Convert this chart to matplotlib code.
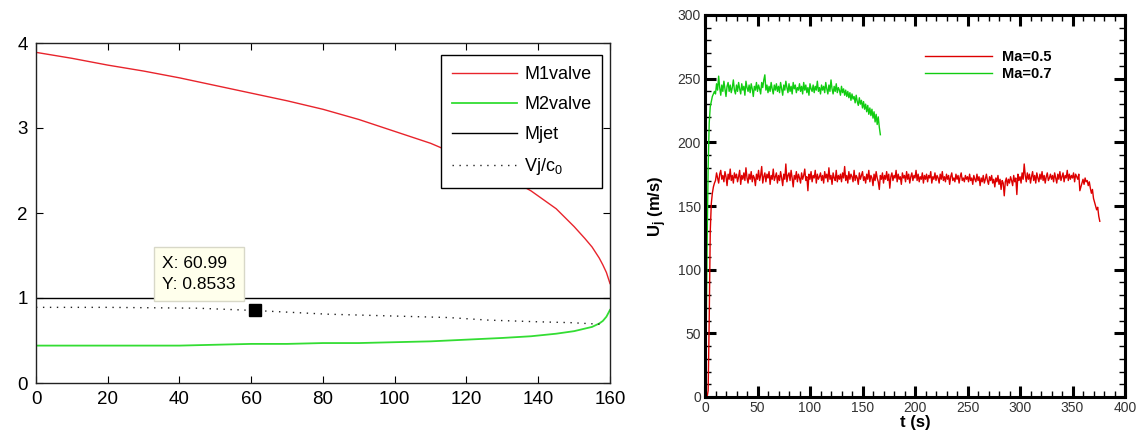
import numpy as np
import matplotlib
matplotlib.use("Agg")
import matplotlib.pyplot as plt
from matplotlib.ticker import MultipleLocator

plt.rcParams['font.family'] = ['Liberation Sans', 'DejaVu Sans']
plt.rcParams['mathtext.fontset'] = 'custom'
plt.rcParams['mathtext.rm'] = 'Liberation Sans'
plt.rcParams['mathtext.it'] = 'Liberation Sans'
plt.rcParams['mathtext.bf'] = 'Liberation Sans:bold'

# ---------------- Left panel data ----------------
x_valve = [0, 10, 20, 30, 40, 50, 60, 70, 80, 90, 100, 110, 120, 130, 138, 145,
           150, 153, 155, 157, 158, 159, 160]
m1_valve = [3.89, 3.82, 3.74, 3.67, 3.59, 3.50, 3.41, 3.32, 3.22, 3.10, 2.96, 2.82,
            2.64, 2.45, 2.26, 2.05, 1.84, 1.70, 1.60, 1.47, 1.39, 1.30, 1.17]
m2_valve = [0.44, 0.44, 0.44, 0.44, 0.44, 0.45, 0.46, 0.46, 0.47, 0.47, 0.48, 0.49,
            0.51, 0.53, 0.55, 0.58, 0.61, 0.64, 0.66, 0.70, 0.73, 0.78, 0.86]
x_jet = [0, 160]
m_jet = [1.0, 1.0]
x_vj = [0, 20, 45, 61, 81, 98, 115, 126, 140, 149, 158]
vj_c0 = [0.89, 0.89, 0.88, 0.853, 0.81, 0.79, 0.77, 0.74, 0.72, 0.71, 0.69]
tip_x, tip_y = 60.99, 0.8533
left_labels = ['M1valve', 'M2valve', 'Mjet', 'Vj/c$_0$']

# ---------------- Right panel data ----------------
t_red = list(range(0, 377))
u_red = [0, 0, 0, 5, 60, 130, 152, 160, 165, 168,
         170, 176, 172, 168, 175, 178, 171, 174, 169, 177, 173, 166, 175, 171, 179, 170, 174, 168, 176, 172,
         175, 169, 173, 178, 167, 174, 171, 176, 170, 180, 172, 168, 175, 171, 177, 169, 174, 172, 166, 175,
         171, 178, 170, 174, 181, 168, 173, 176, 169, 175, 172, 177, 167, 174, 171, 179, 170, 173, 176, 168,
         174, 170, 177, 172, 166, 175, 171, 183, 169, 174, 176, 170, 178, 172, 165, 174, 171, 177, 169, 175,
         172, 168, 176, 171, 174, 179, 170, 173, 162, 175, 171, 177, 169, 174, 172, 178, 168, 175, 171, 173,
         176, 170, 174, 168, 177, 172, 175, 169, 180, 171, 174, 167, 176, 172, 170, 178, 169, 174, 171, 175,
         169, 176, 172, 181, 170, 174, 168, 177, 171, 175, 173, 169, 178, 170, 174, 172, 167, 176, 171, 174,
         177, 170, 173, 168, 175, 171, 178, 169, 174, 172, 166, 175, 170, 177, 172, 169, 163, 174, 171, 176,
         168, 174, 171, 177, 170, 175, 164, 173, 176, 170, 174, 172, 178, 169, 175, 171, 173, 167, 176, 172,
         174, 169, 177, 171, 175, 168, 173, 176, 170, 174, 172, 178, 170, 175, 169, 173, 171, 176, 168, 174,
         171, 175, 169, 174, 172, 177, 168, 173, 171, 176, 170, 174, 172, 168, 175, 171, 177, 170, 173, 169,
         175, 171, 174, 167, 173, 176, 170, 172, 169, 175, 171, 174, 168, 173, 176, 170, 172, 169, 174, 171,
         173, 169, 175, 170, 172, 167, 174, 171, 169, 175, 170, 173, 166, 172, 169, 174, 168, 171, 175, 170,
         167, 173, 170, 174, 168, 171, 165, 172, 169, 174, 167, 171, 163, 170, 168, 158, 169, 172, 166, 171,
         168, 173, 170, 166, 174, 169, 172, 159, 175, 170, 173, 168, 176, 171, 183, 174, 169, 176, 171, 175,
         168, 173, 177, 170, 174, 168, 176, 172, 169, 175, 171, 177, 170, 174, 168, 173, 176, 170, 172, 175,
         171, 174, 169, 176, 172, 168, 175, 171, 177, 170, 173, 176, 169, 174, 172, 178, 170, 175, 171, 174,
         172, 176, 169, 175, 173, 171, 175, 162, 165, 168, 171, 167, 172, 169, 170, 166, 169, 164, 160, 163,
         156, 153, 150, 147, 149, 142, 138]
t_green = list(range(0, 168))
u_green = [0, 40, 120, 180, 215, 228, 232, 236, 238, 240,
           238, 246, 241, 252, 243, 237, 245, 240, 248, 242, 236, 244, 247, 240, 245, 239, 243, 249, 241, 238,
           245, 240, 247, 242, 238, 246, 241, 244, 237, 248, 243, 240, 245, 239, 246, 242, 236, 244, 241, 247,
           240, 245, 242, 238, 247, 243, 249, 253, 241, 245, 239, 244, 240, 247, 242, 238, 245, 241, 246, 240,
           244, 239, 247, 242, 237, 245, 241, 248, 243, 239, 246, 240, 244, 238, 247, 242, 245, 239, 243, 241,
           246, 240, 244, 238, 247, 241, 245, 239, 243, 237, 246, 242, 240, 245, 239, 244, 241, 248, 240, 243,
           238, 245, 241, 244, 239, 247, 242, 238, 245, 240, 249, 242, 238, 244, 240, 246, 239, 243, 241, 237,
           244, 239, 242, 237, 241, 236, 240, 235, 239, 233, 238, 234, 236, 231, 237, 232, 229, 235, 230, 233,
           227, 232, 226, 230, 224, 229, 222, 227, 221, 226, 219, 224, 216, 222, 214, 220, 212,
           206]
right_labels = ['Ma=0.5', 'Ma=0.7']

W, H = 1143, 434
fig = plt.figure(figsize=(W / 100, H / 100), dpi=100)

# ================= Left panel =================
axL = fig.add_axes([36 / W, 1 - 383 / H, (610 - 36) / W, (383 - 43) / H])
red_l = '#E8242C'
green_l = '#33DD33'
axL.plot(x_valve, m1_valve, color=red_l, lw=1.0, label=left_labels[0])
axL.plot(x_valve, m2_valve, color=green_l, lw=1.3, label=left_labels[1])
axL.plot(x_jet, m_jet, color='black', lw=1.0, label=left_labels[2])
axL.plot(x_vj, vj_c0, color='#222222', lw=1.0, ls=(0, (1, 4)), label=left_labels[3])
axL.plot([tip_x], [tip_y], marker='s', color='black', ms=8, ls='none')
axL.annotate('X: %.2f\nY: %.4f' % (tip_x, tip_y), xy=(tip_x, tip_y),
             xytext=(-19, 18), textcoords='offset pixels', ha='right', va='bottom',
             multialignment='left', fontsize=12.5, linespacing=1.55,
             bbox=dict(boxstyle='square,pad=0.5', fc='#FFFFEC', ec='#D8D8C8', lw=1))
axL.set_xlim(0, 160)
axL.set_ylim(0, 4)
axL.xaxis.set_major_locator(MultipleLocator(20))
axL.yaxis.set_major_locator(MultipleLocator(1))
axL.tick_params(direction='in', top=True, right=True, length=5, width=0.8,
                labelsize=13.5, colors='black', pad=6)
for s in axL.spines.values():
    s.set_linewidth(1.0)
    s.set_color('#222222')
legL = axL.legend(loc='upper right', bbox_to_anchor=((602 - 36) / 574, (383 - 55) / 340),
                  borderaxespad=0, frameon=True, fancybox=False, framealpha=1.0, fontsize=13,
                  handlelength=3.6, handletextpad=0.4, labelspacing=0.72, borderpad=0.6)
legL.get_frame().set_edgecolor('black')
legL.get_frame().set_linewidth(1.0)

# ================= Right panel =================
axR = fig.add_axes([705 / W, 1 - 397 / H, (1125 - 705) / W, (397 - 15) / H])
axR.plot(t_red, u_red, color='#DD0000', lw=1.0, label=right_labels[0])
axR.plot(t_green, u_green, color='#11CC11', lw=1.0, label=right_labels[1])
axR.set_xlim(0, 400)
axR.set_ylim(0, 300)
axR.xaxis.set_major_locator(MultipleLocator(50))
axR.xaxis.set_minor_locator(MultipleLocator(10))
axR.yaxis.set_major_locator(MultipleLocator(50))
axR.yaxis.set_minor_locator(MultipleLocator(10))
axR.tick_params(which='major', direction='in', top=True, right=True, length=8, width=2.2,
                labelsize=10, colors='black', labelcolor='#333333', pad=3)
axR.tick_params(which='minor', direction='in', top=True, right=True, length=4.5, width=1.0)
for s in axR.spines.values():
    s.set_linewidth(2.2)
axR.set_xlabel('t (s)', fontsize=12, fontweight='bold', labelpad=0)
axR.set_ylabel(r'U$_\mathbf{j}$ (m/s)', fontsize=12, fontweight='bold', labelpad=6)
legR = axR.legend(loc='upper left', bbox_to_anchor=((925 - 705) / 420, (397 - 50) / 382),
                  borderaxespad=0, borderpad=0, frameon=False,
                  prop={'size': 10.5, 'weight': 'bold'},
                  handlelength=4.6, handletextpad=0.7, labelspacing=0.2)

fig.savefig('out.png', dpi=100)
